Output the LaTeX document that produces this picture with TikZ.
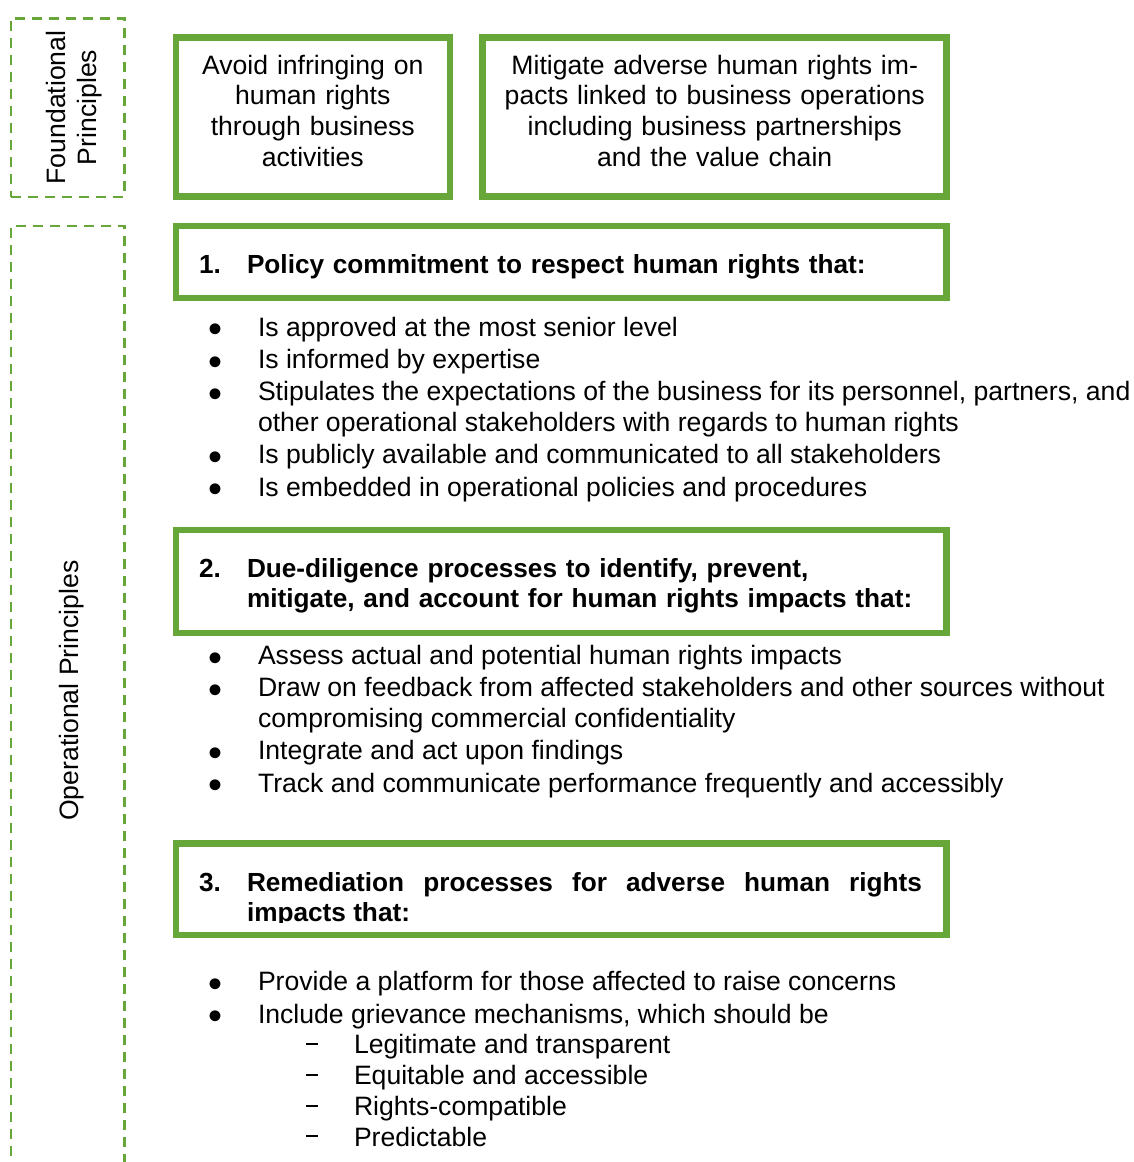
\documentclass[tikz,border=0pt]{standalone}
\usepackage{fontspec}
\setmainfont{Liberation Sans}
\usepackage{xcolor}
\usepackage{enumitem}
\usepackage{tikz}
\usetikzlibrary{positioning, calc}

\definecolor{ungreen}{RGB}{103,167,57}

\setlist[itemize,1]{label={\raisebox{-3.35pt}{\scalebox{1.5}{\textbullet}}}, leftmargin=29pt, labelsep=17.75pt, labelwidth=10pt, itemsep=0.75pt, topsep=0pt, partopsep=0pt, parsep=0pt}
\setlist[itemize,2]{label={\rule[4.4pt]{5.8pt}{1pt}}, leftmargin=48pt, labelsep=18pt, labelwidth=10pt, itemsep=0pt, topsep=0pt, partopsep=0pt, parsep=0pt}

\begin{document}
\begin{tikzpicture}[
   x = 0.5pt, y = -0.5pt,
   every node/.style = {inner sep=0pt, outer sep=0pt, font=\fontsize{13.3pt}{15.4pt}\selectfont},
   greenbox/.style = {draw=ungreen, line width=3.2pt},
   dashbox/.style = {draw=ungreen, line width=1.2pt, dash pattern=on 5pt off 3.5pt},
   heading/.style = {anchor=base west, text width=361.5pt, font=\fontsize{13.1pt}{15.2pt}\selectfont\bfseries},
   bulletlist/.style = {anchor=base west}
   ]
  \useasboundingbox (0,0) rectangle (1134,1162);

  % Principle frames
  \node[dashbox, minimum width=56.65pt, minimum height=89.2pt] (fndframe) at (67.65,107.5) {};
  \node[dashbox, minimum width=56.65pt, minimum height=472pt] (opframe) at (67.65,698) {};
  \node[rotate=90, anchor=base, text width=100pt, align=center] (fndlabel) at (65.3,107.5)
   {Foundational\\Principles};
  \node[rotate=90, anchor=base] (oplabel) at (78,690.7) {Operational Principles};

  % Foundational boxes
  \node[greenbox, minimum width=137pt, minimum height=79.5pt] (avoidbox) at (313,117) {};
  \node[greenbox, minimum width=232pt, minimum height=79.5pt] (mitigatebox) at (714.5,117) {};
  \node[anchor=base, text width=134pt, align=center] (avoidtext) at (312.8,74)
   {Avoid infringing on\\
   human rights\\
   through business\\
   activities};
  \node[anchor=base, text width=230pt, align=center] (mitigatetext) at (714.7,74)
   {Mitigate adverse human rights im-\\
   pacts linked to business operations\\
   including business partnerships\\
   and the value chain};

  % Operational boxes
  \node[greenbox, minimum width=385.25pt, minimum height=36pt] (policybox) at (561.25,262) {};
  \node[greenbox, minimum width=385.25pt, minimum height=51.5pt] (diligencebox) at (561.25,581.5) {};
  \node[greenbox, minimum width=385.25pt, minimum height=45.75pt] (remedybox) at (561.25,889.25) {};

  \node[heading] (policytext) at (199,273.3)
   {\hangindent=24pt\makebox[24pt][l]{1.}Policy commitment to respect human rights that:\par};
  \node[heading, text width=375pt] (diligencetext) at (199,577.3)
   {\hangindent=24pt\makebox[24pt][l]{2.}Due-diligence processes to identify, prevent,\newline
   mitigate, and account for human rights impacts that:\par};
  \begin{scope}
   \clip (179,846.7) rectangle (944,922.5);
   \node[heading, align=justify] (remedytext) at (199,891)
    {\hangindent=24pt\makebox[24pt][l]{3.}Remediation processes for adverse human rights\linebreak
    impacts that:\par};
  \end{scope}

  % Bullet lists
  \node[bulletlist] (policylist) at (200,336)
   {\begin{minipage}[t]{480pt}\raggedright
   \begin{itemize}
    \item Is approved at the most senior level
    \item Is informed by expertise
    \item Stipulates the expectations of the business for its personnel, partners, and\newline
    other operational stakeholders with regards to human rights
    \item Is publicly available and communicated to all stakeholders
    \item Is embedded in operational policies and procedures
   \end{itemize}
   \end{minipage}};
  \node[bulletlist] (diligencelist) at (200,664.3)
   {\begin{minipage}[t]{480pt}\raggedright
   \begin{itemize}
    \item Assess actual and potential human rights impacts
    \item Draw on feedback from affected stakeholders and other sources without\newline
    compromising commercial confidentiality
    \item Integrate and act upon findings
    \item Track and communicate performance frequently and accessibly
   \end{itemize}
   \end{minipage}};
  \node[bulletlist] (remedylist) at (200,990.7)
   {\begin{minipage}[t]{480pt}\raggedright
   \begin{itemize}
    \item Provide a platform for those affected to raise concerns
    \item Include grievance mechanisms, which should be
    \begin{itemize}
     \item Legitimate and transparent
     \item Equitable and accessible
     \item Rights-compatible
     \item Predictable
    \end{itemize}
   \end{itemize}
   \end{minipage}};
\end{tikzpicture}
\end{document}
